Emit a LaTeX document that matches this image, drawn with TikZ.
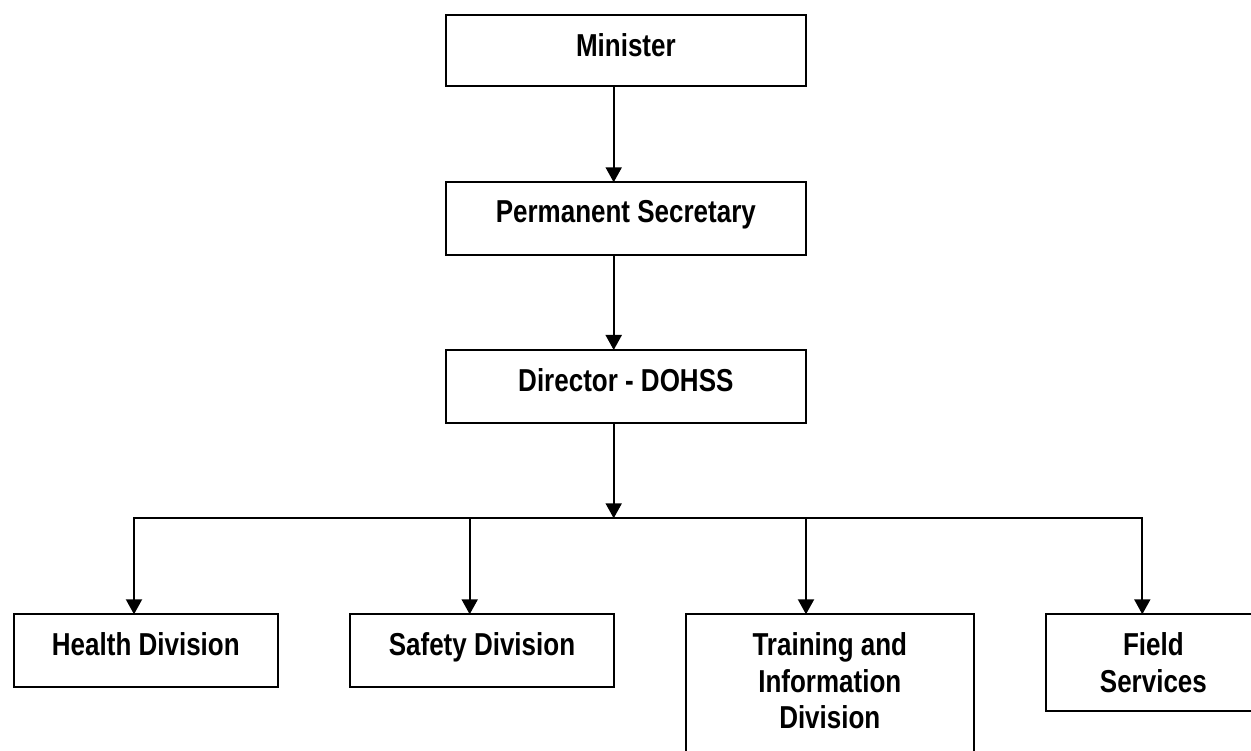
\documentclass[tikz,border=0pt]{standalone}
\usepackage{fontspec}
\setmainfont{Liberation Sans}[FakeStretch=0.82]
\usetikzlibrary{arrows.meta}
\begin{document}
\begin{tikzpicture}[x=1pt,y=-1pt,
  box/.style={draw=black, line width=2pt, rectangle, inner sep=0pt, outer sep=0pt, anchor=north west, fill=white},
  lbl/.style={inner sep=0pt, outer sep=0pt, anchor=north, align=center,
    font=\fontsize{31.7}{36.7}\selectfont\bfseries},
  arr/.style={line width=2pt, -{Triangle[width=16pt,length=15pt]}},
  bus/.style={line width=2pt}]
\useasboundingbox (0,0) rectangle (1251,751);
\clip (0,0) rectangle (1251,751);
% boxes
\node[box, minimum width=360.3pt, minimum height=71.5pt] (minister) at (445.7,15) {};
\node[box, minimum width=360.3pt, minimum height=72.7pt] (ps) at (445.7,182.3) {};
\node[box, minimum width=360.3pt, minimum height=72.7pt] (dir) at (445.7,350) {};
\node[box, minimum width=264.3pt, minimum height=72.4pt] (health) at (13.7,614.3) {};
\node[box, minimum width=264pt, minimum height=72.4pt] (safety) at (350,614.3) {};
\node[box, minimum width=288.4pt, minimum height=146pt] (training) at (685.6,614.3) {};
\node[box, minimum width=216.2pt, minimum height=96.4pt] (field) at (1045.8,614.3) {};
% texts
\node[lbl] (tminister) at ([yshift=-18.3pt]minister.north) {Minister};
\node[lbl] (tps) at ([yshift=-18.3pt]ps.north) {Permanent Secretary};
\node[lbl] (tdir) at ([yshift=-18.3pt]dir.north) {Director - DOHSS};
\node[lbl] (thealth) at ([yshift=-18.3pt]health.north) {Health Division};
\node[lbl] (tsafety) at ([yshift=-18.3pt]safety.north) {Safety Division};
\node[lbl] (ttraining) at ([yshift=-18.3pt]training.north) {Training and\\Information\\Division};
\node[lbl] (tfield) at ([yshift=-18.3pt,xshift=-0.5pt]field.north) {Field\\Services};
% connector coordinates
\coordinate (xm) at (613.7,0);
\coordinate (bmid) at (613.7,518.3);
\coordinate (bh) at (134,518.3);
\coordinate (bs) at (469.7,518.3);
\coordinate (bt) at (806,518.3);
\coordinate (bf) at (1142.3,518.3);
% connectors
\draw[arr] (minister.south -| xm) -- (ps.north -| xm);
\draw[arr] (ps.south -| xm) -- (dir.north -| xm);
\draw[arr] (dir.south -| xm) -- (bmid);
\draw[bus, line cap=rect] (bh) -- (bf);
\draw[arr] (bh) -- (bh |- health.north);
\draw[arr] (bs) -- (bs |- safety.north);
\draw[arr] (bt) -- (bt |- training.north);
\draw[arr] (bf) -- (bf |- field.north);
\end{tikzpicture}
\end{document}
